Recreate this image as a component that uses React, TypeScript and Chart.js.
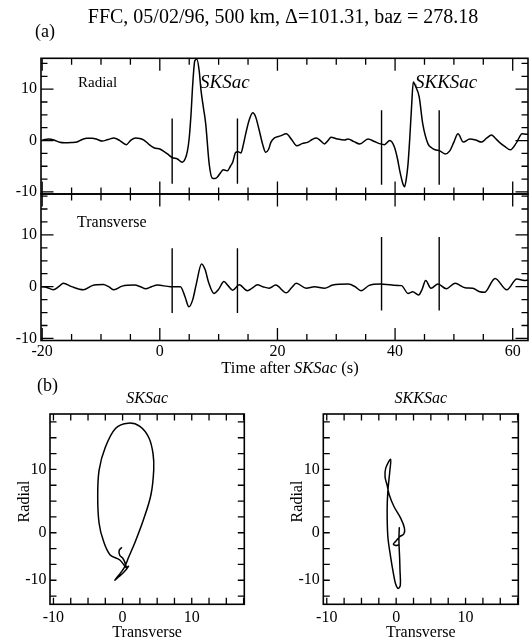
import React, { useEffect, useRef } from "react";
import { Chart, registerables } from "chart.js";

Chart.register(...registerables);

const SERIF = '"Liberation Serif", "Times New Roman", serif';

// ---------------- data ----------------
const timeMin = -20.2;
const timeMax = 62.6;
const timeMajorTicks = [-20, 0, 20, 40, 60];
const ampMajorTicks = [-10, 0, 10];

const radialTime = [
  -20.2, -19.5, -18.9, -18.0, -17.0, -16.2, -15.0, -14.1, -13.2, -12.4, -11.5, -10.6, -9.8, -8.8, -7.8, -6.8,
  -5.7, -4.9, -4.1, -3.4, -2.7, -1.8, -1.0, 0.1, 0.8, 1.3, 2.1, 3.0, 3.8, 4.3, 4.7, 5.0, 5.3, 5.6, 5.95, 6.3,
  6.7, 7.0, 7.4, 7.8, 8.4, 8.9, 9.4, 9.8, 10.3, 10.8, 11.2, 11.5, 12.0, 12.4, 12.9, 13.3, 13.8, 14.2, 14.6,
  15.2, 15.8, 16.3, 16.9, 17.5, 18.0, 18.5, 18.9, 19.5, 20.5, 21.5, 22.4, 23.3, 24.2, 25.2, 25.9, 26.6, 27.3,
  28.0, 28.6, 29.1, 30.2, 31.4, 32.0, 33.0, 34.0, 35.4, 36.5, 37.5, 38.2, 39.1, 39.9, 40.4, 40.8, 41.3, 41.6,
  41.9, 42.2, 42.5, 42.8, 43.1, 43.5, 44.1, 44.7, 45.6, 46.2, 46.8, 47.6, 48.5, 49.3, 50.0, 50.7, 51.6, 52.7,
  53.7, 54.7, 55.6, 56.4, 57.0, 57.7, 58.7, 59.6, 60.6, 61.6, 62.6,
];
const radialAmp = [
  0.0, 0.2, 0.3, 0.1, -0.35, -0.45, -0.4, -0.3, 0.2, 0.45, 0.45, 0.2, -0.1, 0.2, 0.5, 0.0,
  -0.8, 0.1, 0.5, 0.4, 0.1, -0.8, -1.4, -1.7, -2.2, -2.6, -3.3, -3.6, -4.2, -3.6, -2.0, 0.5, 5.0, 11.0, 15.5, 15.8,
  13.5, 9.8, 6.5, 3.3, -4.6, -7.3, -7.4, -7.1, -6.3, -5.7, -5.8, -5.9, -5.0, -4.2, -2.3, -2.2, -2.4, -0.8, 1.3,
  4.0, 5.4, 4.6, 2.0, -0.8, -2.3, -1.7, -0.3, 0.5, 0.9, 1.3, 0.2, -1.0, -0.6, -0.3, 0.2, 0.5, 0.0,
  -0.65, 0.0, 0.65, 0.3, 0.1, 0.3, -0.2, -0.65, 0.3, -0.2, -0.65, -0.8, 0.0, -1.3, -3.5, -5.9, -8.3, -9.0,
  -7.5, -4.6, 0.5, 6.5, 11.4, 10.5, 8.5, 3.3, -0.65, -1.4, -1.8, -2.0, -2.6, -2.0, -0.3, 1.3, -0.3, 0.3,
  0.1, -0.3, 0.5, 1.1, 0.5, -0.3, -1.2, -1.8, -0.5, 1.3, 1.2,
];

const transTime = [
  -20.2, -19.3, -18.1, -17.2, -16.4, -15.0, -13.0, -11.5, -9.6, -8.7, -7.8, -6.4, -4.3, -3.3, -2.4, -1.4,
  -0.4, 1.8, 3.5, 4.3, 4.95, 5.6, 6.2, 7.1, 7.7, 8.3, 9.2, 10.0, 10.9, 11.6, 12.4, 13.5, 14.9, 15.7, 16.6,
  17.5, 18.6, 19.7, 21.5, 22.4, 23.2, 24.9, 26.3, 28.0, 29.4, 32.0, 33.2, 34.2, 35.6, 37.5, 39.5, 41.1, 42.2,
  43.0, 44.0, 44.6, 45.2, 46.1, 47.3, 48.7, 50.2, 51.9, 53.2, 54.4, 55.2, 57.0, 59.0, 60.7, 62.0, 62.6,
];
const transAmp = [
  0.0, -0.1, -0.6, 0.0, 0.65, 0.0, -0.6, 0.2, 0.4, 0.0, -0.6, 0.1, 0.3, 0.0, -0.4, 0.0,
  0.3, 0.0, 0.0, -2.0, -3.9, -2.5, 0.5, 4.4, 3.3, 0.8, -1.3, -0.5, 1.0, 0.2, -0.7, 0.35, -0.8, -0.3, 0.35,
  0.0, -0.3, 0.3, -1.2, -0.2, 0.65, -0.3, 0.0, -0.3, 0.3, 0.5, 0.0, -0.8, 0.25, 0.5, 0.3, 0.2, -1.3,
  -1.0, -1.6, -0.5, 1.2, -0.3, 0.5, -0.4, 0.65, -0.2, -0.3, -1.0, -1.1, 1.6, -0.6, 1.5, 1.2, 1.3,
];

// window markers (SKSac start/end, SKKSac start/end)
const markerTimes = [2.1, 13.2, 37.7, 47.5];
const radialMarkTop = [4.3, 4.3, 5.9, 5.9];
const radialMarkBottom = [-8.4, -8.4, -8.6, -8.6];
const transMarkTop = [7.4, 7.4, 9.6, 9.6];
const transMarkBottom = [-5.1, -5.1, -4.6, -4.6];

// particle motion, SKSac window (transverse, radial)
const sksTrans = [-0.1, -0.5, -0.4, 0.0, 0.3, 0.5, -0.4, -1.8, -2.8, -3.4, -3.6, -3.4, -2.5, -1.0, 0.8, 2.5, 3.8, 4.4,
  4.5, 4.1, 3.0, 1.8, 0.9, 0.3, -0.4, -1.0, -1.1, -0.6, 0.2, 0.85, 0.6];
const sksRad = [-2.3, -2.8, -3.6, -4.0, -4.6, -5.5, -4.3, -3.5, -1.2, 1.5, 5.7, 9.9, 13.5, 16.5, 17.3, 16.8, 15.0, 12.5,
  9.9, 6.0, 2.0, -1.5, -3.8, -5.4, -6.5, -7.3, -7.5, -7.0, -6.2, -5.3, -5.5];

// particle motion, SKKSac window (transverse, radial)
const skksTrans = [0.4, 0.45, 0.4, 0.5, 0.55, 0.6, 0.3, -0.1, -0.4, -0.8, -1.2, -1.3, -1.2, -0.9, -0.8, -1.5, -1.6, -1.3,
  -1.0, -0.3, 0.65, 1.2, 1.1, 0.55, -0.1, -0.4, 0.1, 0.5];
const skksRad = [-0.7, 0.8, -1.3, -4.0, -5.9, -8.3, -8.8, -8.0, -6.4, -3.8, -0.6, 3.6, 6.5, 9.9, 11.6, 10.2, 8.8, 7.5,
  6.0, 4.1, 2.3, 0.7, -0.2, -0.6, -1.4, -1.8, -2.0, -1.8];

const pmAxisMin = -10.5;
const pmAxisMax = 17.6;
const pmRadMin = -11.3;
const pmRadMax = 18.75;
const pmXLabels: [number, string][] = [[-10, "-10"], [0, "0"], [10, "10"]];
const pmYLabels: [number, string][] = [[10, "10"], [0, "0"], [-7.5, "-10"]];

// ---------------- helpers ----------------
type Part = { s: string; italic?: boolean };
type Label = { parts: Part[]; x: number; y: number; size: number; align?: "left" | "center"; rotate?: boolean };

function drawLabel(ctx: CanvasRenderingContext2D, lb: Label) {
  ctx.save();
  ctx.translate(lb.x, lb.y);
  if (lb.rotate) ctx.rotate(-Math.PI / 2);
  ctx.textBaseline = "alphabetic";
  ctx.textAlign = "left";
  ctx.fillStyle = "#000";
  const fonts = lb.parts.map((p) => `${p.italic ? "italic " : ""}${lb.size}px ${SERIF}`);
  const widths = lb.parts.map((p, i) => {
    ctx.font = fonts[i];
    return ctx.measureText(p.s).width;
  });
  const total = widths.reduce((a, b) => a + b, 0);
  let cx = lb.align === "center" ? -total / 2 : 0;
  lb.parts.forEach((p, i) => {
    ctx.font = fonts[i];
    ctx.fillText(p.s, cx, 0);
    cx += widths[i];
  });
  ctx.restore();
}

function isIn(v: number, list: number[]) {
  return list.some((m) => Math.abs(m - v) < 1e-6);
}

function framePlugin(cfg: { xMajor: number[]; yMajor: number[]; minorLen: number; majorLen: number; labels: Label[] }) {
  return {
    id: "frame",
    afterDraw(chart: any) {
      const { ctx, chartArea: a } = chart;
      const xs = chart.scales.x;
      const ys = chart.scales.y;
      ctx.save();
      ctx.strokeStyle = "#000";
      ctx.lineWidth = 1.3;
      ctx.beginPath();
      for (const t of xs.ticks) {
        const p = xs.getPixelForValue(t.value);
        const len = isIn(t.value, cfg.xMajor) ? cfg.majorLen : cfg.minorLen;
        ctx.moveTo(p, a.bottom);
        ctx.lineTo(p, a.bottom - len);
        ctx.moveTo(p, a.top);
        ctx.lineTo(p, a.top + len);
      }
      for (const t of ys.ticks) {
        const p = ys.getPixelForValue(t.value);
        const len = isIn(t.value, cfg.yMajor) ? cfg.majorLen : cfg.minorLen;
        ctx.moveTo(a.left, p);
        ctx.lineTo(a.left + len, p);
        ctx.moveTo(a.right, p);
        ctx.lineTo(a.right - len, p);
      }
      ctx.stroke();
      ctx.lineWidth = 1.6;
      ctx.strokeRect(a.left, a.top, a.right - a.left, a.bottom - a.top);
      cfg.labels.forEach((l) => drawLabel(ctx, l));
      ctx.restore();
    },
  };
}

const tickFont = { family: SERIF, size: 16 };

function trace(xs: number[], ys: number[], extra: any = {}) {
  return {
    data: xs.map((x, i) => ({ x, y: ys[i] })),
    showLine: true,
    borderColor: "#000",
    borderWidth: 1.5,
    pointRadius: 0,
    cubicInterpolationMode: "monotone",
    ...extra,
  };
}

function marker(t: number, top: number, bottom: number) {
  return {
    data: [{ x: t, y: top }, { x: t, y: bottom }],
    showLine: true,
    borderColor: "#000",
    borderWidth: 1.4,
    pointRadius: 0,
    tension: 0,
  };
}

function labelFrom(list: [number, string][]) {
  return (v: number) => {
    const hit = list.find(([m]) => Math.abs(m - v) < 1e-6);
    return hit ? hit[1] : "";
  };
}

function baseAxis(min: number, max: number, step: number, extra: any) {
  return {
    type: "linear",
    min,
    max,
    grid: { display: false, drawTicks: false },
    border: { display: false },
    ...extra,
    ticks: { stepSize: step, includeBounds: false, autoSkip: false, maxRotation: 0, color: "#000", font: tickFont, ...(extra.ticks || {}) },
  };
}

function baseOptions(padding: any, scales: any) {
  return {
    responsive: false,
    animation: false,
    events: [],
    layout: { padding },
    plugins: { legend: { display: false }, tooltip: { enabled: false } },
    scales,
  };
}

const timeLabels: [number, string][] = timeMajorTicks.map((v) => [v, String(v)]);
const ampLabels: [number, string][] = ampMajorTicks.map((v) => [v, String(v)]);

function makeRadial() {
  return {
    type: "scatter",
    data: {
      datasets: [
        trace(radialTime, radialAmp),
        ...markerTimes.map((t, i) => marker(t, radialMarkTop[i], radialMarkBottom[i])),
      ],
    },
    options: baseOptions({ left: 0, top: 58.3, right: 4, bottom: 449 }, {
      x: baseAxis(timeMin, timeMax, 5, { ticks: { display: false }, afterFit: (s: any) => { s.height = 0; } }),
      y: baseAxis(-10.4, 16, 2.5, { ticks: { padding: 4, callback: labelFrom(ampLabels) }, afterFit: (s: any) => { s.width = 41; } }),
    }),
    plugins: [
      framePlugin({
        xMajor: timeMajorTicks, yMajor: ampMajorTicks, minorLen: 6.5, majorLen: 12.5,
        labels: [
          { parts: [{ s: "FFC, 05/02/96, 500 km, \u0394=101.31, baz = 278.18" }], x: 283, y: 23, size: 20, align: "center" },
          { parts: [{ s: "(a)" }], x: 35, y: 37, size: 18 },
          { parts: [{ s: "Radial" }], x: 78, y: 87, size: 15 },
          { parts: [{ s: "SKSac", italic: true }], x: 200, y: 87.5, size: 19 },
          { parts: [{ s: "SKKSac", italic: true }], x: 415, y: 87.5, size: 19 },
        ],
      }),
    ],
  };
}

function makeTransverse() {
  return {
    type: "scatter",
    data: {
      datasets: [
        trace(transTime, transAmp),
        ...markerTimes.map((t, i) => marker(t, transMarkTop[i], transMarkBottom[i])),
      ],
    },
    options: baseOptions({ left: 0, top: 194, right: 4, bottom: 272.5 }, {
      x: baseAxis(timeMin, timeMax, 5, { ticks: { padding: 2, callback: labelFrom(timeLabels) }, afterFit: (s: any) => { s.height = 30; } }),
      y: baseAxis(-10.4, 17.9, 2.5, { ticks: { padding: 4, callback: labelFrom(ampLabels) }, afterFit: (s: any) => { s.width = 41; } }),
    }),
    plugins: [
      framePlugin({
        xMajor: timeMajorTicks, yMajor: ampMajorTicks, minorLen: 6.5, majorLen: 12.5,
        labels: [
          { parts: [{ s: "Transverse" }], x: 77, y: 226.5, size: 16 },
          { parts: [{ s: "Time after " }, { s: "SKSac", italic: true }, { s: " (s)" }], x: 290, y: 372.5, size: 16.5, align: "center" },
        ],
      }),
    ],
  };
}

function makeParticle(tr: number[], rad: number[], left: number, right: number, phase: string, extraLabels: Label[]) {
  const cx = (left + right) / 2;
  return {
    type: "scatter",
    data: { datasets: [trace(tr, rad, { cubicInterpolationMode: "default", tension: 0.35 })] },
    options: baseOptions({ left: left - 50, top: 414, right: 532 - right, bottom: 643 - 604.3 - 30 }, {
      x: baseAxis(pmAxisMin, pmAxisMax, 2.5, { ticks: { padding: 3.5, callback: labelFrom(pmXLabels) }, afterFit: (s: any) => { s.height = 30; } }),
      y: baseAxis(pmRadMin, pmRadMax, 2.5, { ticks: { padding: 3.5, callback: labelFrom(pmYLabels) }, afterFit: (s: any) => { s.width = 50; } }),
    }),
    plugins: [
      framePlugin({
        xMajor: [], yMajor: [], minorLen: 6.5, majorLen: 6.5,
        labels: [
          { parts: [{ s: phase, italic: true }], x: cx, y: 403, size: 16, align: "center" },
          { parts: [{ s: "Radial" }], x: left - 21, y: 501.5, size: 16, align: "center", rotate: true },
          { parts: [{ s: "Transverse" }], x: cx, y: 637, size: 16, align: "center" },
          ...extraLabels,
        ],
      }),
    ],
  };
}

const makeSks = () => makeParticle(sksTrans, sksRad, 50, 244.3, "SKSac", [{ parts: [{ s: "(b)" }], x: 37, y: 391, size: 18 }]);
const makeSkks = () => makeParticle(skksTrans, skksRad, 323.3, 518.3, "SKKSac", []);

function ChartCanvas({ make }: { make: () => any }) {
  const ref = useRef<HTMLCanvasElement | null>(null);
  useEffect(() => {
    if (!ref.current) return;
    const chart = new Chart(ref.current, make());
    return () => chart.destroy();
  }, [make]);
  return (
    <canvas
      ref={ref}
      width={532}
      height={643}
      style={{ position: "absolute", left: 0, top: 0, width: 532, height: 643 }}
    />
  );
}

export default function App() {
  return (
    <div style={{ position: "fixed", left: 0, top: 0, width: 532, height: 643, background: "#fff", overflow: "hidden" }}>
      <ChartCanvas make={makeRadial} />
      <ChartCanvas make={makeTransverse} />
      <ChartCanvas make={makeSks} />
      <ChartCanvas make={makeSkks} />
    </div>
  );
}
